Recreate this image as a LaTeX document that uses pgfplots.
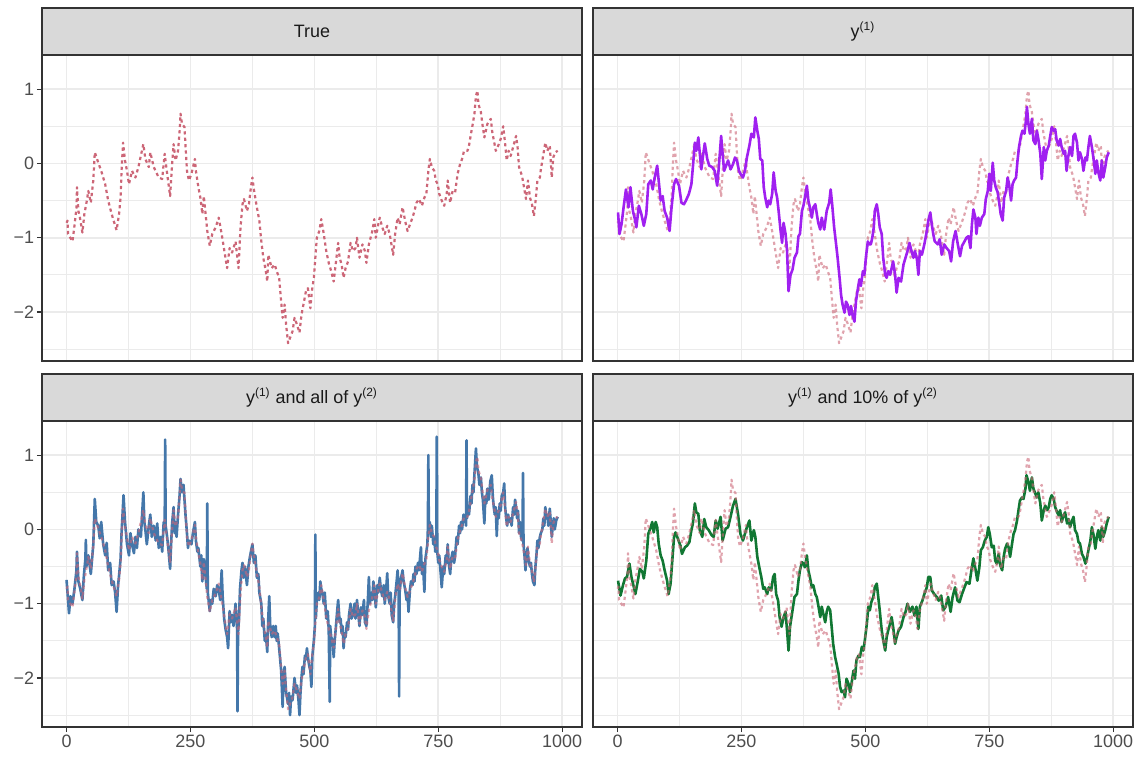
\documentclass[border=0pt]{standalone}
\usepackage{pgfplots}
\pgfplotsset{compat=1.18}
\usepackage{pgfplotstable}
\usepackage{fontspec}
\setmainfont{Liberation Sans}
\definecolor{cdark}{HTML}{333333}
\definecolor{ctick}{HTML}{4D4D4D}
\definecolor{cstrip}{HTML}{D9D9D9}
\definecolor{cstriptxt}{HTML}{1A1A1A}
\definecolor{cgrid}{HTML}{EBEBEB}
\definecolor{ctrue}{HTML}{CC6677}
\definecolor{cpurple}{HTML}{A020F0}
\definecolor{cblue}{HTML}{4477AA}
\definecolor{cgreen}{HTML}{117733}

\pgfplotstableread{
x y
0 -0.8
2 -0.77
3 -0.95
12 -1.05
16 -0.84
20 -0.6
21 -0.32
24 -0.64
27 -0.73
32 -0.93
36 -0.68
41 -0.5
44 -0.37
49 -0.53
54 -0.23
57 0.15
64 0.01
70 -0.1
78 -0.28
84 -0.5
91 -0.68
95 -0.77
101 -0.9
106 -0.68
109 -0.46
111 -0.1
114 0.28
118 0.04
122 -0.1
126 -0.28
132 -0.1
139 -0.19
145 -0.05
155 0.26
159 0.06
166 -0.05
169 0.15
176 -0.05
186 -0.19
193 -0.21
198 0.13
203 -0.14
209 -0.44
213 -0.01
216 0.26
220 0.04
225 0.17
228 0.42
230 0.67
233 0.53
238 0.49
240 0.24
243 -0.1
247 -0.23
252 -0.14
259 0.06
261 -0.1
266 -0.32
270 -0.46
274 -0.68
277 -0.44
284 -0.91
289 -1.11
294 -0.95
301 -0.86
307 -0.73
313 -0.95
318 -1.16
324 -1.41
329 -1.14
334 -1.2
341 -1.05
347 -1.41
351 -0.86
355 -0.55
358 -0.48
364 -0.64
368 -0.55
372 -0.32
375 -0.19
378 -0.35
384 -0.59
389 -0.77
393 -1.05
397 -1.27
402 -1.45
405 -1.59
407 -1.23
414 -1.41
420 -1.36
424 -1.45
429 -1.54
433 -1.86
436 -2.08
440 -1.9
443 -2.17
447 -2.42
452 -2.33
456 -2.26
460 -2.08
465 -2.17
470 -2.28
474 -2.04
478 -1.9
483 -1.72
487 -1.68
492 -1.95
495 -1.72
499 -1.54
502 -1.27
505 -1.0
510 -0.91
514 -0.75
519 -0.95
524 -1.18
529 -1.34
534 -1.45
539 -1.59
543 -1.36
548 -1.07
551 -1.27
555 -1.36
559 -1.54
563 -1.41
568 -1.32
573 -1.07
578 -1.18
583 -1.14
586 -1.0
591 -1.27
597 -1.09
602 -1.18
605 -1.34
610 -1.09
617 -0.91
621 -0.75
624 -1.0
629 -0.82
632 -0.73
637 -0.86
642 -0.95
647 -0.84
652 -0.95
656 -1.11
659 -1.23
663 -0.95
668 -0.73
672 -0.82
678 -0.59
683 -0.77
688 -0.91
693 -0.82
698 -0.73
702 -0.64
706 -0.53
711 -0.48
717 -0.57
722 -0.46
726 -0.41
730 -0.1
733 0.06
737 -0.05
742 -0.1
745 -0.23
749 -0.28
752 -0.41
757 -0.5
762 -0.57
767 -0.41
769 -0.23
774 -0.53
779 -0.37
784 -0.39
789 -0.14
794 -0.01
798 0.06
802 0.17
809 0.17
812 0.24
816 0.4
819 0.51
823 0.67
826 0.91
829 0.98
831 0.8
836 0.69
839 0.53
843 0.35
846 0.44
849 0.53
856 0.6
859 0.42
863 0.28
866 0.17
871 0.24
876 0.33
881 0.5
885 0.26
888 0.04
892 0.17
896 0.1
901 0.22
907 0.37
910 0.22
913 -0.05
919 -0.17
923 -0.32
927 -0.48
931 -0.23
935 -0.46
939 -0.55
943 -0.71
947 -0.46
950 -0.23
955 -0.19
957 -0.08
960 0.04
966 0.28
970 0.17
975 0.24
979 -0.19
982 0.08
986 0.15
991 0.17
}\truetab

\pgfplotstableread{
x y
1 -0.66
4 -0.95
8 -0.82
13 -0.55
17 -0.35
22 -0.59
26 -0.32
31 -0.64
35 -0.75
38 -0.86
43 -0.57
48 -0.68
53 -0.84
58 -0.68
62 -0.28
67 -0.23
71 -0.35
75 -0.19
80 -0.03
83 -0.23
87 -0.5
91 -0.44
95 -0.64
100 -0.73
105 -0.91
109 -0.59
114 -0.28
118 -0.21
124 -0.3
129 -0.53
134 -0.55
138 -0.5
144 -0.41
149 -0.28
152 -0.05
156 0.28
159 0.17
163 0.35
166 0.13
169 -0.08
172 0.08
176 0.27
181 0.06
185 -0.03
191 -0.05
196 -0.1
201 -0.3
204 -0.08
209 0.37
212 0.13
215 -0.1
219 -0.03
223 0.04
228 -0.08
233 -0.01
237 0.08
241 0.04
245 -0.1
248 -0.14
253 -0.19
257 -0.1
261 0.08
266 0.24
270 0.4
275 0.35
278 0.62
282 0.44
285 0.33
288 0.06
292 0.04
295 -0.32
298 -0.46
302 -0.59
305 -0.5
308 -0.55
312 -0.41
315 -0.12
319 -0.37
322 -0.46
325 -0.64
329 -0.91
332 -1.07
335 -0.8
339 -0.95
342 -1.18
345 -1.72
349 -1.5
353 -1.43
357 -1.27
362 -1.2
365 -0.98
368 -0.95
372 -0.64
375 -0.57
378 -0.46
382 -0.3
385 -0.5
388 -0.59
392 -0.73
395 -0.59
399 -0.55
402 -0.68
405 -0.8
409 -0.89
412 -0.73
417 -0.89
422 -0.64
427 -0.53
430 -0.35
433 -0.55
437 -0.86
441 -1.09
444 -1.27
448 -1.54
451 -1.77
454 -1.9
458 -2.01
461 -1.86
464 -1.9
468 -2.04
471 -1.92
474 -2.04
478 -2.13
481 -1.86
485 -1.68
488 -1.56
491 -1.65
495 -1.45
498 -1.5
501 -1.27
505 -1.05
508 -1.09
511 -1.09
514 -1.0
517 -0.86
519 -0.64
523 -0.55
526 -0.68
529 -0.86
533 -0.95
536 -1.27
540 -1.5
543 -1.54
546 -1.45
550 -1.5
553 -1.41
556 -1.32
560 -1.5
563 -1.74
567 -1.54
572 -1.59
577 -1.36
581 -1.27
585 -1.18
589 -1.07
593 -1.18
597 -1.27
600 -1.18
604 -1.29
607 -1.5
610 -1.18
614 -1.23
619 -1.09
624 -0.91
627 -0.77
631 -0.66
634 -0.82
637 -0.95
640 -1.05
646 -1.09
650 -1.02
654 -1.23
659 -1.09
664 -1.14
669 -1.18
673 -1.32
677 -1.05
682 -0.91
686 -1.07
691 -1.25
695 -1.11
700 -1.05
704 -1.0
708 -0.98
712 -1.14
715 -0.82
718 -0.62
722 -0.73
724 -0.95
728 -0.73
731 -0.84
735 -0.73
740 -0.68
743 -0.48
747 -0.37
750 -0.14
753 -0.37
757 0.01
760 -0.23
763 -0.32
767 -0.39
770 -0.53
773 -0.68
777 -0.77
780 -0.46
784 -0.37
787 -0.19
790 -0.28
794 -0.5
797 -0.28
800 -0.23
804 -0.19
807 0.04
810 0.22
814 0.37
817 0.44
821 0.4
824 0.58
826 0.76
829 0.53
832 0.4
836 0.6
839 0.31
843 0.26
846 0.44
849 0.33
853 0.13
856 -0.21
860 0.22
863 0.04
866 0.17
870 0.24
873 0.37
876 0.49
880 0.44
883 0.46
886 0.31
890 0.24
893 0.33
896 0.22
900 0.13
903 0.17
906 -0.1
909 0.08
913 0.22
917 0.1
920 0.37
923 0.4
927 0.28
930 0.04
933 0.15
937 0.06
940 -0.1
944 0.08
947 0.04
950 0.22
953 0.37
957 0.22
960 0.08
964 -0.14
967 0.04
970 -0.12
974 -0.23
977 0.04
980 -0.19
984 -0.05
987 0.08
991 0.15
}\yonetab

\pgfplotstableread{
x y
0 -0.68
2 -0.85
5 -1.13
8 -0.9
12 -1.0
16 -0.8
20 -0.55
21 -0.3
24 -0.7
27 -0.78
32 -0.95
35 -0.62
38 -0.4
39 -0.14
40 -0.5
44 -0.35
49 -0.6
54 -0.2
57 0.41
60 0.1
64 0.05
67 -0.12
70 0.1
74 -0.2
78 -0.35
81 -0.18
84 -0.55
88 -0.45
91 -0.75
95 -0.7
98 -0.85
101 -1.11
104 -0.75
106 -0.62
109 -0.4
111 -0.05
115 0.46
118 0.1
122 -0.2
126 -0.35
129 -0.05
132 -0.2
136 -0.32
139 -0.1
142 -0.25
145 0.0
150 -0.1
155 0.5
157 0.1
159 0.0
162 -0.2
166 0.05
169 0.2
172 -0.1
176 0.05
180 -0.15
183 0.08
186 -0.25
190 -0.1
193 -0.3
196 0.1
198 0.0
199 1.21
200 0.05
203 -0.1
206 -0.3
209 -0.53
211 -0.2
213 0.08
216 0.3
218 -0.05
220 0.1
222 -0.1
225 0.2
228 0.45
230 0.68
233 0.5
236 0.6
238 0.4
240 0.2
243 -0.05
245 -0.25
247 -0.15
252 -0.2
255 -0.05
259 0.1
261 -0.15
264 -0.3
266 -0.25
270 -0.5
272 -0.35
274 -0.7
277 -0.4
280 -0.6
283 -0.8
284 0.35
285 -0.85
289 -1.1
291 -0.95
294 -1.0
297 -0.8
301 -0.9
304 -0.75
307 -0.8
310 -0.95
313 -0.55
315 -0.9
318 -1.2
321 -1.35
324 -1.45
326 -1.6
329 -1.1
331 -1.25
334 -1.15
337 -1.3
341 -1.0
344 -1.3
345 -2.45
346 -1.4
348 -1.2
350 -0.8
353 -0.55
355 -0.45
357 -0.65
360 -0.5
364 -0.75
367 -0.5
370 -0.37
372 -0.3
375 -0.2
378 -0.45
381 -0.35
384 -0.65
387 -0.6
389 -0.85
393 -1.0
395 -1.3
397 -1.2
400 -1.5
402 -1.4
405 -1.65
407 -1.2
409 -0.9
411 -1.3
414 -1.45
417 -1.3
420 -1.45
422 -1.3
424 -1.5
426 -1.4
429 -1.6
433 -1.9
436 -2.39
438 -1.95
440 -1.85
443 -2.2
447 -2.35
449 -2.2
451 -2.5
453 -2.25
456 -2.3
458 -2.15
460 -2.0
463 -2.2
465 -2.1
468 -2.3
470 -2.5
472 -2.2
474 -2.0
476 -1.85
478 -1.95
481 -1.7
483 -1.75
485 -1.6
487 -1.72
490 -1.85
492 -1.9
494 -2.12
496 -1.7
499 -1.5
501 -1.3
502 -0.07
503 -1.2
505 -0.95
508 -0.85
510 -0.95
512 -0.7
514 -0.8
517 -0.9
519 -1.0
521 -0.85
524 -1.2
527 -1.1
529 -1.35
531 -2.32
532 -1.3
534 -1.45
537 -1.5
539 -1.72
541 -1.5
543 -1.35
546 -1.1
548 -0.95
551 -1.25
553 -1.2
555 -1.4
557 -1.3
559 -1.6
561 -1.4
563 -1.45
566 -1.25
568 -1.35
570 -1.15
573 -1.0
575 -1.2
578 -1.15
581 -1.0
583 -1.2
586 -0.95
588 -1.1
591 -1.3
594 -1.05
597 -1.15
600 -0.95
602 -1.25
605 -1.3
608 -0.95
610 -0.64
612 -1.0
615 -0.85
617 -0.95
619 -0.7
621 -0.8
624 -1.05
627 -0.75
629 -0.85
632 -0.65
634 -0.8
637 -0.9
640 -0.75
642 -1.0
645 -0.8
647 -0.59
649 -0.9
652 -1.0
654 -0.85
656 -1.15
659 -1.25
661 -1.0
663 -0.9
666 -0.7
668 -0.55
670 -0.8
671 -2.25
672 -0.85
675 -0.65
678 -0.55
680 -0.7
683 -0.8
686 -0.95
688 -0.85
690 -1.11
693 -0.8
695 -0.7
698 -0.75
700 -0.6
702 -0.7
704 -0.5
706 -0.6
709 -0.45
711 -0.55
713 -0.4
715 -0.24
717 -0.6
719 -0.45
722 -0.84
724 -0.4
726 -0.3
728 -0.2
729 0.0
730 1.0
731 0.0
733 0.1
735 -0.1
737 0.05
740 -0.2
742 -0.1
744 -0.3
746 -0.25
747 1.25
748 -0.3
750 -0.45
752 -0.35
755 -0.6
757 -0.78
760 -0.5
762 -0.6
765 -0.35
767 -0.45
769 -0.2
771 -0.45
774 -0.6
776 -0.4
779 -0.3
782 -0.45
784 -0.35
787 -0.1
789 -0.2
792 0.05
794 -0.05
796 0.1
798 0.0
801 0.2
803 0.1
805 0.2
806 0.05
807 1.2
808 0.15
810 0.3
812 0.2
815 0.45
817 0.35
819 0.6
821 0.5
823 0.75
826 1.09
828 0.85
831 0.75
833 0.6
836 0.7
838 0.5
840 0.4
843 0.08
845 0.45
847 0.35
849 0.55
852 0.4
855 0.65
858 0.73
860 0.45
862 0.3
864 0.2
866 0.3
868 -0.09
870 0.25
872 0.15
874 0.35
876 0.25
878 0.45
881 0.5
883 0.62
885 0.3
887 0.15
889 0.05
891 0.2
893 0.1
896 0.15
898 0.05
901 0.3
903 0.2
905 0.4
907 0.3
909 0.15
911 0.25
913 -0.05
915 0.1
917 -0.1
919 -0.15
920 0.0
921 0.76
922 -0.2
924 -0.35
926 -0.55
928 -0.35
930 -0.25
932 -0.4
935 -0.5
937 -0.45
939 -0.6
941 -0.7
944 -0.75
946 -0.5
948 -0.35
950 -0.15
952 -0.25
955 -0.1
957 -0.05
960 0.0
962 0.15
964 0.05
966 0.3
968 0.15
970 0.2
972 0.05
975 0.28
977 0.1
979 -0.1
981 0.05
983 0.15
985 0.0
988 0.12
991 0.17
}\bluetab

\pgfplotstableread{
x y
1 -0.69
6 -0.89
11 -0.75
15 -0.66
19 -0.64
24 -0.46
28 -0.64
33 -0.78
36 -0.87
41 -0.69
45 -0.53
50 -0.57
53 -0.66
58 -0.42
62 -0.06
67 0.03
70 0.1
73 -0.04
77 0.1
80 0.03
83 -0.19
87 -0.35
91 -0.42
95 -0.55
100 -0.69
103 -0.87
107 -0.73
110 -0.46
114 -0.1
117 -0.04
122 -0.13
127 -0.22
130 -0.33
136 -0.24
140 -0.22
145 -0.17
149 -0.01
152 0.08
156 0.35
159 0.23
163 0.21
166 -0.01
171 -0.1
175 0.14
179 0.03
184 -0.01
190 -0.08
194 -0.1
198 0.12
202 0.01
208 0.17
212 -0.15
218 0.01
223 0.03
228 0.17
233 0.32
238 0.41
243 0.21
248 -0.06
253 -0.15
257 -0.06
261 0.03
266 0.12
270 -0.15
275 -0.01
278 -0.1
282 -0.37
286 -0.51
290 -0.64
294 -0.8
297 -0.78
302 -0.87
305 -0.78
310 -0.82
314 -0.64
317 -0.6
320 -0.87
324 -0.96
327 -1.18
331 -1.31
335 -1.18
339 -1.11
342 -1.36
345 -1.63
348 -1.31
353 -1.09
357 -0.91
362 -0.87
365 -0.69
368 -0.55
372 -0.44
375 -0.46
378 -0.51
382 -0.35
385 -0.55
388 -0.64
392 -0.78
395 -0.75
399 -0.87
402 -0.91
405 -1.02
409 -1.18
412 -1.04
415 -1.13
419 -1.25
422 -1.11
425 -1.04
429 -1.09
432 -1.31
435 -1.54
439 -1.72
442 -1.81
446 -1.94
449 -2.12
452 -2.19
456 -2.17
459 -2.26
462 -2.01
466 -2.08
469 -2.19
472 -2.08
476 -1.9
479 -2.01
482 -1.76
486 -1.7
489 -1.72
493 -1.58
496 -1.63
499 -1.49
503 -1.27
506 -1.04
509 -1.09
512 -0.98
516 -0.91
519 -0.78
523 -0.73
526 -0.91
529 -1.09
533 -1.36
536 -1.49
540 -1.63
543 -1.45
546 -1.36
550 -1.27
553 -1.18
556 -1.31
560 -1.54
563 -1.45
567 -1.36
572 -1.31
577 -1.18
581 -1.11
585 -1.0
590 -1.11
595 -1.04
599 -1.16
603 -1.04
607 -1.34
610 -1.04
615 -0.96
619 -0.87
624 -0.78
627 -0.64
631 -0.64
634 -0.82
639 -0.87
644 -0.91
648 -0.96
653 -0.89
657 -1.09
662 -1.04
667 -0.91
672 -1.11
676 -0.91
681 -0.78
686 -0.96
690 -0.98
695 -0.87
700 -0.78
704 -0.71
710 -0.73
714 -0.55
718 -0.39
722 -0.53
726 -0.69
730 -0.51
733 -0.28
737 -0.24
741 -0.15
745 -0.1
748 0.03
751 -0.06
755 -0.24
759 -0.22
762 -0.42
765 -0.46
769 -0.33
772 -0.48
776 -0.55
779 -0.37
782 -0.26
786 -0.19
789 -0.24
792 -0.37
796 -0.19
799 -0.06
802 -0.01
806 0.12
809 0.26
812 0.39
816 0.43
819 0.41
823 0.55
825 0.73
829 0.64
832 0.52
836 0.7
839 0.55
843 0.48
846 0.43
849 0.5
853 0.35
856 0.12
860 0.26
863 0.32
867 0.26
870 0.3
873 0.41
876 0.46
880 0.41
883 0.3
887 0.23
890 0.19
893 0.26
896 0.1
900 0.19
903 0.23
907 0.08
910 0.14
913 0.03
917 0.12
920 0.17
923 -0.01
927 -0.06
930 -0.17
933 -0.19
937 -0.33
940 -0.37
944 -0.46
947 -0.39
950 -0.28
954 -0.15
957 0.03
960 -0.06
964 -0.26
967 -0.1
970 -0.01
974 -0.15
977 0.03
980 -0.1
984 -0.01
987 0.08
991 0.17
}\greentab

\pgfplotsset{
  facet/.style={
    scale only axis, width=270bp, height=153bp, anchor=south west,
    xmin=-49.5, xmax=1040, ymin=-2.66, ymax=1.46,
    axis line style={draw=cdark, line width=0.55bp},
    xtick={0,250,500,750,1000}, ytick={-2,-1,0,1},
    minor xtick={125,375,625,875}, minor ytick={-2.5,-1.5,-0.5,0.5},
    xticklabels={0,250,500,750,1000},
    yticklabels={−2,−1,0,1},
    grid=both,
    major grid style={draw=cgrid, line width=0.8bp},
    minor grid style={draw=cgrid, line width=0.4bp},
    major tick length=2.6bp, minor tick length=0pt,
    tick align=outside, xtick pos=bottom, ytick pos=left,
    tick style={draw=cdark, line width=0.55bp},
    tick label style={font=\fontsize{9}{10}\selectfont, text=ctick},
    xticklabel style={inner sep=1.2bp},
    yticklabel style={inner sep=1.2bp},
    every axis title/.style={at={(0.5,1)}, anchor=south, yshift=0pt,
      fill=cstrip, draw=cdark, line width=0.55bp, minimum width=270bp,
      minimum height=23.5bp, inner sep=0pt, outer sep=0pt, text=cstriptxt,
      font=\fontsize{9}{10}\selectfont},
    after end axis/.code={\draw[cdark, line width=0.55bp] (rel axis cs:0,0) rectangle (rel axis cs:1,1);},
  },
  noxt/.style={xticklabels={}, xtick style={draw=none}},
  noyt/.style={yticklabels={}, ytick style={draw=none}},
  truestyle/.style={ctrue, line width=1.1bp, line cap=butt, line join=round, dash pattern=on 1.6bp off 1.6bp},
  truelight/.style={ctrue, opacity=0.6, line width=1.1bp, line cap=butt, line join=round, dash pattern=on 1.6bp off 1.6bp},
}

\begin{document}
\begin{tikzpicture}
\path[use as bounding box] (0bp,0bp) rectangle (569.5bp,381.5bp);

\begin{axis}[facet, noxt, at={(21bp,201bp)}, title={True}]
\addplot[truestyle] table {\truetab};
\end{axis}

\begin{axis}[facet, noxt, noyt, at={(296.5bp,201bp)}, title={y\textsuperscript{(1)}}]
\addplot[truelight] table {\truetab};
\addplot[cpurple, line width=1.3bp, line join=round] table {\yonetab};
\end{axis}

\begin{axis}[facet, at={(21bp,18bp)}, title={y\textsuperscript{(1)} and all of y\textsuperscript{(2)}}]
\addplot[cblue, line width=1.3bp, line join=round] table {\bluetab};
\addplot[truelight] table {\truetab};
\end{axis}

\begin{axis}[facet, noyt, at={(296.5bp,18bp)}, title={y\textsuperscript{(1)} and 10\% of y\textsuperscript{(2)}}]
\addplot[cgreen, line width=1.3bp, line join=round] table {\greentab};
\addplot[truelight] table {\truetab};
\end{axis}
\end{tikzpicture}
\end{document}
